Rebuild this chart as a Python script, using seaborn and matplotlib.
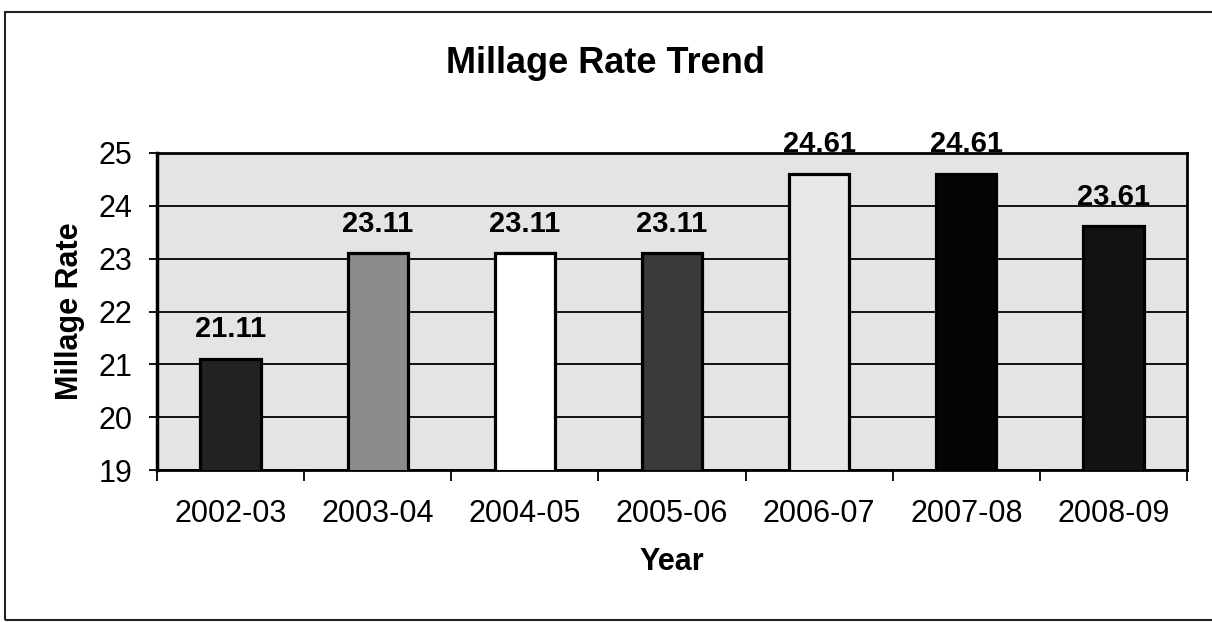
import matplotlib
matplotlib.use("Agg")
import matplotlib.pyplot as plt
from matplotlib.patches import Rectangle
from matplotlib.ticker import FixedLocator
import seaborn as sns
import pandas as pd

# ---- data ----
years = ["2002-03", "2003-04", "2004-05", "2005-06", "2006-07", "2007-08", "2008-09"]
rates = [21.11, 23.11, 23.11, 23.11, 24.61, 24.61, 23.61]
bar_colors = ["#222222", "#8c8c8c", "#ffffff", "#3a3a3a", "#e8e8e8", "#050505", "#121212"]
yticks = [19, 20, 21, 22, 23, 24, 25]

title_text = "Millage Rate Trend"
xlabel_text = "Year"
ylabel_text = "Millage Rate"

sns.set_theme(style="white")
plt.rcParams["font.family"] = ["Liberation Sans", "DejaVu Sans"]

W, H = 1212, 622
fig = plt.figure(figsize=(W / 100, H / 100), dpi=100)
fig.patch.set_facecolor("white")

ax_l, ax_r, ax_t, ax_b = 157, 1187, 153, 470
ax = fig.add_axes([ax_l / W, 1 - ax_b / H, (ax_r - ax_l) / W, (ax_b - ax_t) / H])
ax.set_facecolor("#e4e4e4")

df = pd.DataFrame({"Year": years, "Rate": rates})
sns.barplot(data=df, x="Year", y="Rate", hue="Year", palette=bar_colors,
            width=0.41, edgecolor="black", linewidth=2.3, legend=False,
            ax=ax, zorder=3, saturation=1)

ax.set_ylim(19, 25)
ax.set_xlim(-0.5, len(years) - 0.5)
ax.set_yticks(yticks)
ax.yaxis.grid(True, color="black", linewidth=1.3)
ax.xaxis.grid(False)
ax.set_axisbelow(True)

for sp in ax.spines.values():
    sp.set_visible(True)
    sp.set_color("black")
    sp.set_linewidth(2)
ax.spines["left"].set_linewidth(2.5)

# ticks
ax.tick_params(axis="y", which="major", direction="out", length=6, width=1.3,
               pad=12, labelsize=22, colors="black", left=True)
ax.xaxis.set_minor_locator(FixedLocator([i - 0.5 for i in range(len(years) + 1)]))
ax.tick_params(axis="x", which="minor", direction="out", length=8, width=1.3,
               bottom=True, colors="black")
ax.tick_params(axis="x", which="major", length=0, pad=21, labelsize=22, colors="black")

# data labels
for cont in ax.containers:
    ax.bar_label(cont, labels=[f"{v:.2f}" for v in cont.datavalues],
                 padding=11, fontsize=21, fontweight="bold", color="black")

# axis labels
ax.set_xlabel(xlabel_text, fontsize=22, fontweight="bold", color="black")
ax.xaxis.set_label_coords(0.5, -(547 - ax_b) / (ax_b - ax_t))
ax.set_ylabel(ylabel_text, fontsize=22, fontweight="bold", color="black", va="center")
ax.yaxis.set_label_coords(-(ax_l - 69.5) / (ax_r - ax_l), 0.5)

# title
fig.text(0.5, 1 - 63.5 / H, title_text, ha="center", va="center",
         fontsize=26, fontweight="bold", color="black")

# outer border
fig.patches.append(Rectangle((5 / W, 1 - 620 / H), 1.2, (620 - 12) / H,
                             transform=fig.transFigure, fill=False,
                             edgecolor="#222222", linewidth=1.5, zorder=0))

fig.savefig("out.png", dpi=100)
